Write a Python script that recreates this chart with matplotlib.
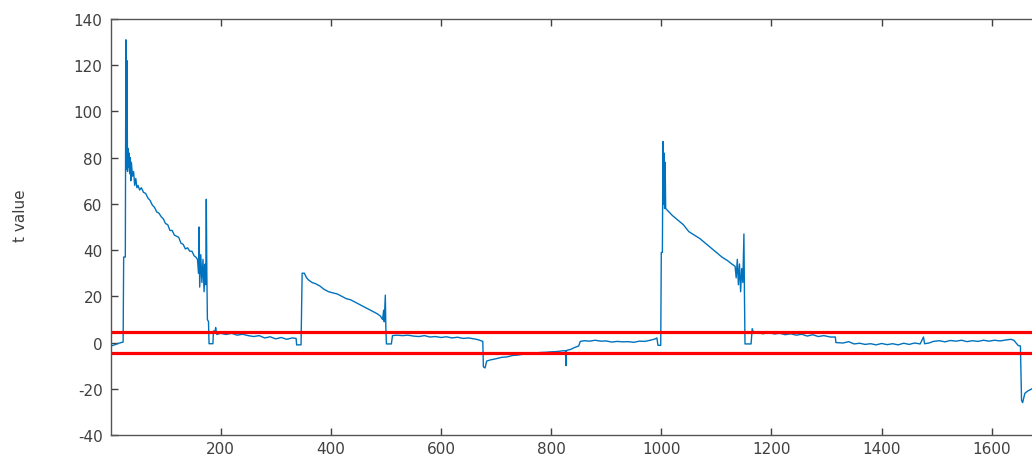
import matplotlib
matplotlib.use('Agg')
import matplotlib.pyplot as plt

plt.rcParams['axes.unicode_minus'] = False

# (sample, t value), one list per stretch of the recording
seg_start = [(1, -1.5), (5, -1.2), (10, -0.8), (15, -0.3), (20, 0), (23, 0.2), (24, 37), (27, 37),
             (28, 131), (29, 75), (30, 122), (31, 74), (32, 84), (33, 76), (34, 82), (35, 73),
             (36, 80), (37, 70), (38, 78), (40, 72), (42, 74), (44, 68), (46, 71), (48, 67),
             (50, 68), (53, 66), (56, 67), (60, 65), (64, 64.5), (68, 62.5), (72, 61.5), (76, 59.5),
             (80, 58.5), (84, 56.5), (88, 56), (92, 54.5), (96, 53.5), (100, 51.5), (104, 51), (108, 48.5),
             (112, 48.5), (116, 46.5), (120, 46), (124, 45.5), (128, 43), (132, 42.5), (136, 40.5),
             (140, 41), (144, 39.5), (148, 39.5), (152, 37.5), (155, 37), (158, 36), (160, 30),
             (161, 50), (162, 24), (164, 38), (166, 26), (168, 36), (170, 22), (172, 34),
             (173, 25), (174, 62), (175, 30), (176, 10), (178, 9), (179, -0.5), (186, -0.5)]

seg_second = [(187, 5), (190, 5), (191, 6.5), (193, 3.5), (200, 4), (210, 3.5), (220, 4),
              (230, 3.2), (240, 3.6), (250, 3), (260, 2.6), (270, 3), (280, 2), (290, 2.5),
              (300, 1.6), (310, 2.2), (320, 1.4), (330, 2), (337, 1.8), (338, -1), (346, -1),
              (348, 30), (352, 30), (356, 28), (360, 27), (366, 26), (372, 25.5), (380, 24.5),
              (388, 23), (396, 22), (404, 21.5), (412, 21), (420, 20), (428, 19), (436, 18.5),
              (444, 17.5), (452, 16.5), (460, 15.5), (468, 14.5), (476, 13.5), (484, 12.5),
              (490, 11.5), (494, 10), (496, 14), (497, 9), (499, 20.5), (500, 6), (501, -0.6),
              (510, -0.6)]

seg_middle = [(512, 3), (520, 3.2), (530, 3), (540, 3.2), (550, 2.8), (560, 2.6), (570, 3),
              (580, 2.4), (590, 2.6), (600, 2.2), (610, 2.5), (620, 2), (630, 2.3), (640, 1.8),
              (650, 2), (660, 1.6), (668, 1.2), (676, 0.5), (677, -10.5), (680, -11), (683, -8),
              (690, -7.5), (700, -7), (710, -6.4), (720, -6.2), (730, -5.6), (740, -5.4),
              (750, -5), (760, -4.9), (770, -4.7), (780, -4.3), (790, -4.2), (800, -4),
              (810, -3.9), (820, -3.6), (826, -3.5), (827, -10), (828, -3.4), (835, -3),
              (844, -2), (850, -1.5), (853, 0.5), (860, 0.8), (870, 0.6), (880, 1), (890, 0.6),
              (900, 0.7), (910, 0.2), (920, 0.5), (930, 0.3), (940, 0.4), (950, 0.1),
              (960, 0.6), (970, 0.5), (980, 1), (988, 1.5), (992, 2), (994, -1.2), (999, -1.2)]

seg_third = [(1000, 39), (1002, 39), (1003, 87), (1004, 60), (1005, 82), (1006, 58), (1007, 78),
             (1008, 58), (1012, 57), (1020, 55), (1030, 53), (1040, 51), (1050, 48),
             (1060, 46.5), (1070, 45), (1080, 43), (1090, 41), (1100, 39), (1110, 37),
             (1120, 35.5), (1128, 34), (1134, 33), (1136, 28), (1138, 36), (1140, 25),
             (1142, 34), (1144, 22), (1146, 32), (1148, 26), (1150, 47), (1151, 20),
             (1152, -0.6), (1163, -0.6)]

seg_end = [(1165, 6), (1168, 4), (1175, 4.2), (1185, 3.8), (1195, 4.4), (1205, 3.7), (1215, 4),
           (1225, 3.4), (1235, 3.8), (1245, 3.2), (1255, 3.6), (1265, 2.8), (1275, 3.4),
           (1285, 2.6), (1295, 3), (1307, 2.4), (1316, 2.4), (1317, 0), (1330, -0.2),
           (1340, 0.4), (1350, -0.6), (1360, -0.3), (1370, -0.8), (1380, -0.5), (1390, -1),
           (1400, -0.4), (1410, -0.9), (1420, -0.5), (1430, -1), (1440, -0.3), (1450, -0.8),
           (1460, -0.2), (1470, -0.6), (1476, 2.4), (1478, -0.5), (1486, -0.2), (1494, 0.5),
           (1505, 0.8), (1515, 0.3), (1525, 0.9), (1535, 0.6), (1545, 1), (1555, 0.4),
           (1565, 0.8), (1575, 0.5), (1585, 1), (1595, 0.6), (1605, 1), (1615, 0.7),
           (1625, 1.1), (1635, 1.4), (1640, 1), (1648, -1.3), (1652, -1.5), (1654, -25),
           (1656, -26), (1660, -22), (1665, -21), (1673, -20)]

threshold = 4.7
y_ticks = [-40, -20, 0, 20, 40, 60, 80, 100, 120, 140]
x_ticks = [200, 400, 600, 800, 1000, 1200, 1400, 1600]

points = seg_start + seg_second + seg_middle + seg_third + seg_end
samples = [p[0] for p in points]
t_values = [p[1] for p in points]

fig = plt.figure(figsize=(10.32, 4.6), dpi=100)
ax = fig.add_axes([111 / 1032, 24 / 460, (1032 - 111) / 1032, 416 / 460])

ax.plot(samples, t_values, color='#0072BD', lw=1.0)
ax.axhline(threshold, color='#ff0000', lw=2.3)
ax.axhline(-threshold, color='#ff0000', lw=2.3)

ax.set_xlim(1, 1673)
ax.set_ylim(-40, 140)
ax.set_xticks(x_ticks)
ax.set_yticks(y_ticks)
ax.tick_params(direction='in', length=5, width=1, colors='#404040', labelsize=11,
               top=True, right=False)
ax.tick_params(axis='x', pad=4)
ax.tick_params(axis='y', pad=6)
ax.spines['right'].set_visible(False)
for s in ['left', 'top', 'bottom']:
    ax.spines[s].set_color('#555555')
    ax.spines[s].set_linewidth(1.0)
ax.set_ylabel('t value', fontsize=11, color='#404040')
ax.yaxis.set_label_coords(-0.09, 0.53)

fig.savefig('out.png', dpi=100)
